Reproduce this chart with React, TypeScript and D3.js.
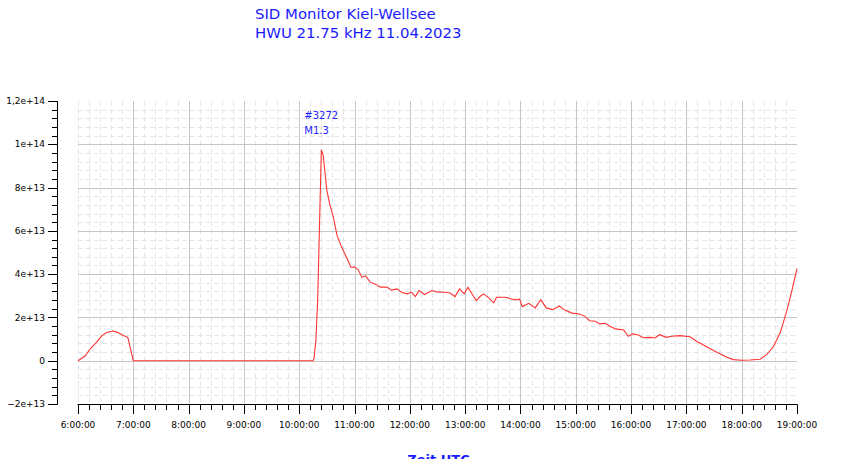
import React from "react";
import * as d3 from "d3";

const titleLines = ["SID Monitor Kiel-Wellsee", "HWU 21.75 kHz 11.04.2023"];
const annotationLines = ["#3272", "M1.3"];
const xLabel = "Zeit UTC";

const times = [
  "6:00", "6:08", "6:13", "6:20", "6:26", "6:31", "6:38", "6:43", "6:48", "6:54",
  "7:00", "10:15", "10:16", "10:18", "10:20", "10:24", "10:26", "10:30", "10:33", "10:37",
  "10:41", "10:46", "10:52", "10:56", "11:00", "11:04", "11:08", "11:12", "11:17", "11:22",
  "11:28", "11:35", "11:40", "11:46", "11:51", "11:57", "12:02", "12:06", "12:10", "12:16",
  "12:24", "12:29", "12:38", "12:44", "12:49", "12:54", "12:59", "13:03", "13:07", "13:12",
  "13:17", "13:20", "13:26", "13:31", "13:34", "13:40", "13:44", "13:50", "13:55", "13:59",
  "14:02", "14:09", "14:16", "14:22", "14:28", "14:35", "14:42", "14:48", "14:56", "15:04",
  "15:10", "15:15", "15:21", "15:26", "15:32", "15:37", "15:43", "15:52", "15:57", "16:02",
  "16:08", "16:13", "16:21", "16:26", "16:31", "16:38", "16:44", "16:53", "17:04", "17:11",
  "17:22", "17:33", "17:44", "17:51", "18:00", "18:09", "18:20", "18:27", "18:34", "18:42",
  "18:49", "18:54", "19:00",
];

// values in units of 1e13
const valuesE13 = [
  0, 0.23, 0.54, 0.85, 1.16, 1.3, 1.37, 1.31, 1.19, 1.08,
  0, 0, 0.1, 0.9, 2.8, 9.75, 9.49, 7.87, 7.25, 6.64,
  5.79, 5.25, 4.71, 4.32, 4.33, 4.2, 3.85, 3.92, 3.63, 3.55,
  3.4, 3.4, 3.26, 3.32, 3.16, 3.09, 3.16, 2.96, 3.24, 3.06,
  3.24, 3.18, 3.16, 3.12, 2.96, 3.32, 3.09, 3.39, 3.12, 2.78,
  3.0, 3.09, 2.89, 2.67, 2.93, 2.93, 2.93, 2.85, 2.81, 2.85,
  2.5, 2.65, 2.44, 2.82, 2.44, 2.36, 2.53, 2.34, 2.2, 2.16,
  2.05, 1.85, 1.82, 1.7, 1.73, 1.59, 1.47, 1.42, 1.13, 1.24,
  1.19, 1.06, 1.08, 1.05, 1.2, 1.08, 1.13, 1.16, 1.11, 0.9,
  0.65, 0.39, 0.16, 0.05, 0.02, 0.03, 0.07, 0.28, 0.62, 1.31,
  2.31, 3.16, 4.25,
];

const yTickValues = [-2e13, 0, 2e13, 4e13, 6e13, 8e13, 1e14, 1.2e14];
const yTickLabels = ["\u22122e+13", "0", "2e+13", "4e+13", "6e+13", "8e+13", "1e+14", "1,2e+14"];
const xTickHours = [6, 7, 8, 9, 10, 11, 12, 13, 14, 15, 16, 17, 18, 19];
const annotationHour = 10.4;
const annotationValue = 1.2e14;

const W = 850;
const H = 459;
const FONT = "'DejaVu Sans', Verdana, sans-serif";

function parseHour(s: string) {
  const [h, m] = s.split(":").map(Number);
  return h + m / 60;
}

export default function App() {
  const x = d3.scaleLinear().domain([6, 19]).range([78, 797]);
  const y = d3.scaleLinear().domain([-2e13, 1.2e14]).range([404, 101]);
  const data = times.map((t, i) => ({ t: parseHour(t), v: valuesE13[i] * 1e13 }));
  const line = d3
    .line<{ t: number; v: number }>()
    .x((d) => x(d.t))
    .y((d) => y(d.v))
    .curve(d3.curveLinear);

  const minorX = d3.range(0, 13 * 5).map((i) => 6 + i / 5);
  const minorY = d3.range(1, 35).map((i) => -2e13 + i * 4e12);
  const majorY = [0, 2e13, 4e13, 6e13, 8e13, 1e14];
  const minorYTicks = d3.range(0, 36).map((i) => -2e13 + i * 4e12);
  const minorXTicks = d3.range(0, 13 * 5 + 1).map((i) => 6 + i / 5);

  const isMajorX = (h: number) => Math.abs(h - Math.round(h)) < 1e-6;

  return (
    <svg
      width={W}
      height={H}
      style={{ position: "absolute", left: 0, top: 0, background: "#fff" }}
      fontFamily={FONT}
    >
      {/* minor grid */}
      {minorY.map((v, i) => (
        <line key={"my" + i} x1={78} x2={797} y1={Math.round(y(v)) + 0.5} y2={Math.round(y(v)) + 0.5}
          stroke="#e6e6e6" strokeDasharray="5,3" />
      ))}
      {minorX.filter((h) => !isMajorX(h) || h === 6).map((h, i) => (
        <line key={"mx" + i} x1={Math.round(x(h)) + 0.5} x2={Math.round(x(h)) + 0.5} y1={101} y2={404}
          stroke="#e6e6e6" strokeDasharray="5,3" />
      ))}
      {/* major grid */}
      {majorY.map((v, i) => (
        <line key={"My" + i} x1={78} x2={797} y1={Math.round(y(v)) + 0.5} y2={Math.round(y(v)) + 0.5}
          stroke="#c6c6c6" />
      ))}
      {xTickHours.filter((h) => h > 6 && h < 19).map((h, i) => (
        <line key={"Mx" + i} x1={Math.round(x(h)) + 0.5} x2={Math.round(x(h)) + 0.5} y1={101} y2={404}
          stroke="#c6c6c6" />
      ))}

      {/* data line */}
      <path d={line(data) || ""} fill="none" stroke="#ff3333" strokeWidth={1.1} />

      {/* y axis */}
      <line x1={57.5} x2={57.5} y1={101} y2={404.5} stroke="#000" />
      {minorYTicks.map((v, i) => (
        <line key={"yt" + i} x1={52} x2={57.5} y1={Math.round(y(v)) + 0.5} y2={Math.round(y(v)) + 0.5} stroke="#000" />
      ))}
      {yTickValues.map((v, i) => (
        <g key={"yl" + i}>
          <line x1={48} x2={57.5} y1={Math.round(y(v)) + 0.5} y2={Math.round(y(v)) + 0.5} stroke="#000" />
          <text x={45} y={y(v)} dy="0.35em" textAnchor="end" fontSize={9} fill="#000">
            {yTickLabels[i]}
          </text>
        </g>
      ))}

      {/* x axis */}
      <line x1={77.5} x2={797.5} y1={404.5} y2={404.5} stroke="#000" />
      {minorXTicks.map((h, i) => (
        <line key={"xt" + i} x1={Math.round(x(h)) + 0.5} x2={Math.round(x(h)) + 0.5} y1={404.5}
          y2={isMajorX(h) ? 414 : 410} stroke="#000" />
      ))}
      {xTickHours.map((h) => (
        <text key={"xl" + h} x={x(h)} y={427.5} textAnchor="middle" fontSize={9} fill="#000">
          {`${h}:00:00`}
        </text>
      ))}
      <text x={(78 + 797) / 2 + 1} y={464} textAnchor="middle" fontSize={13} fontWeight="bold" fill="#1a1aff">
        {xLabel}
      </text>

      {/* title */}
      <text x={255} y={19} fontSize={14.9} fill="#1a1aff">{titleLines[0]}</text>
      <text x={255} y={37.5} fontSize={14.9} fill="#1a1aff">{titleLines[1]}</text>

      {/* annotation */}
      <text x={x(annotationHour) - 17} y={y(annotationValue) + 17.5} fontSize={10} fill="#2222ff">
        {annotationLines[0]}
      </text>
      <text x={x(annotationHour) - 17} y={y(annotationValue) + 32.5} fontSize={10} fill="#2222ff">
        {annotationLines[1]}
      </text>
    </svg>
  );
}
